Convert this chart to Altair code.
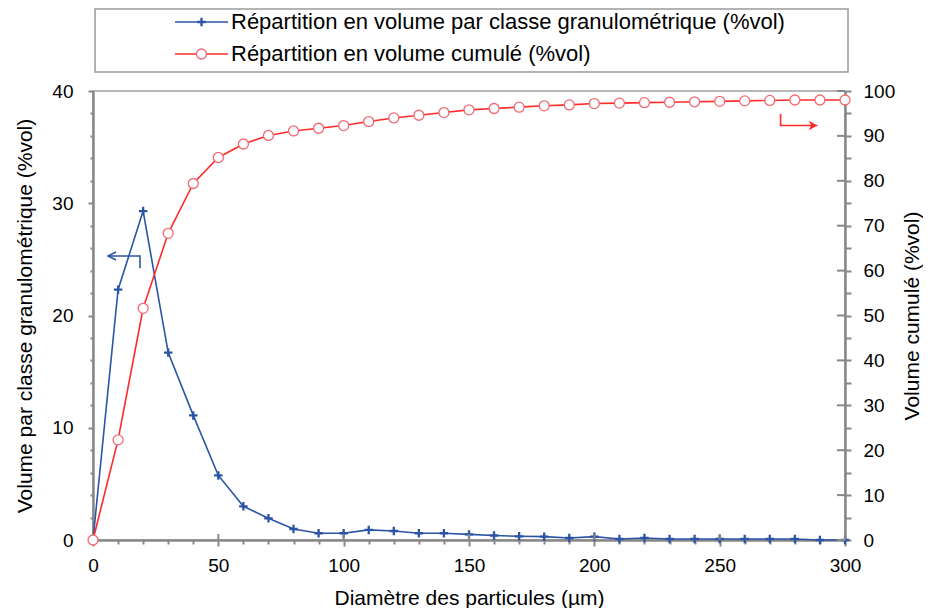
import altair as alt
import pandas as pd

# ---------------- data ----------------
diam = list(range(0, 301, 10))
vol_classe = [0.0, 22.3, 29.3, 16.7, 11.1, 5.75, 3.0, 1.93, 0.98, 0.6, 0.6, 0.9, 0.8,
              0.6, 0.6, 0.5, 0.4, 0.33, 0.3, 0.18, 0.3, 0.09, 0.18, 0.09, 0.09, 0.09,
              0.09, 0.09, 0.09, 0.0, 0.0]
vol_cumule = [0.0, 22.3, 51.6, 68.3, 79.4, 85.2, 88.2, 90.1, 91.1, 91.7, 92.3, 93.2, 94.0,
              94.6, 95.2, 95.8, 96.1, 96.4, 96.7, 96.9, 97.2, 97.3, 97.4, 97.5, 97.6, 97.7,
              97.8, 97.9, 98.0, 98.0, 98.0]

legend_labels = ["Répartition en volume par classe granulométrique (%vol)",
                 "Répartition en volume cumulé (%vol)"]
x_title = "Diamètre des particules (µm)"
y_left_title = "Volume par classe granulométrique (%vol)"
y_right_title = "Volume cumulé (%vol)"

# annotation arrows (data units)
blue_arrow_x = [6.0, 18.75, 18.75]
blue_arrow_y = [25.3, 25.3, 24.2]
red_arrow_x = [274.3, 274.3, 289.0]
red_arrow_y = [94.9, 92.3, 92.3]

x_major = list(range(0, 301, 50))
right_major = list(range(0, 101, 10))

# ---------------- styles ----------------
BLUE = "#2b54a6"
RED = "#ff2a2a"
RED_MK = "#f06a72"
GRAY = "#888888"
FONT = "Liberation Sans"
CROSS = "M-1,0L1,0M0,-1L0,1"
CHEV_L = "M1,-0.5L0,0L1,0.5"
ARROW_R = "M0,0L-1,-0.55L-0.72,0L-1,0.55Z"

df = pd.DataFrame({"diam": diam, "classe": vol_classe, "cumul": vol_cumule})
blue_arrow = pd.DataFrame({"ax": blue_arrow_x, "ay": blue_arrow_y, "i": [0, 1, 2]})
red_arrow = pd.DataFrame({"ax": red_arrow_x, "ay": red_arrow_y, "i": [0, 1, 2]})
xmaj_df = pd.DataFrame({"diam": x_major})
rmaj_df = pd.DataFrame({"cumul": right_major})
one = pd.DataFrame({"a": [0]})

x_axis = alt.Axis(
    values=list(range(0, 301, 10)),
    labelExpr="datum.value % 50 === 0 ? datum.label : ''",
    tickSize={"condition": {"test": "datum.value % 50 === 0", "value": 6}, "value": 4},
    labelPadding=10, titlePadding=12, grid=False,
)
x_scale = alt.Scale(domain=[0, 300], nice=False, zero=False)

left_axis = alt.Axis(
    values=list(range(0, 41, 2)),
    labelExpr="datum.value % 10 === 0 ? datum.label : ''",
    tickSize={"condition": {"test": "datum.value % 10 === 0", "value": 5}, "value": 3},
    labelPadding=15, titlePadding=16, grid=False, orient="left",
)
left_scale = alt.Scale(domain=[0, 40], nice=False)

right_axis = alt.Axis(
    values=list(range(0, 101, 5)),
    labelExpr="datum.value % 10 === 0 ? datum.label : ''",
    tickSize=6, labelPadding=12, titlePadding=28, grid=False, orient="right",
    titleAngle=270,
)
right_scale = alt.Scale(domain=[0, 100], nice=False)


def X(field):
    return alt.X(field, type="quantitative", scale=x_scale, axis=x_axis, title=x_title)


def YL(field):
    return alt.Y(field, type="quantitative", scale=left_scale, axis=left_axis, title=y_left_title)


def YR(field):
    return alt.Y(field, type="quantitative", scale=right_scale, axis=right_axis, title=y_right_title)


base = alt.Chart(df)

blue_line = base.mark_line(color=BLUE, strokeWidth=1.6).encode(x=X("diam"), y=YL("classe"))
blue_pts = base.mark_point(shape=CROSS, size=72, color=BLUE, strokeWidth=2.3, opacity=1).encode(
    x=X("diam"), y=YL("classe"))
blue_arr_line = alt.Chart(blue_arrow).mark_line(color=BLUE, strokeWidth=1.6).encode(
    x=X("ax"), y=YL("ay"), order="i:Q")
blue_arr_head = alt.Chart(blue_arrow.iloc[[0]]).mark_point(
    shape=CHEV_L, size=256, color=BLUE, strokeWidth=1.6, opacity=1).encode(x=X("ax"), y=YL("ay"))
x_inner = alt.Chart(xmaj_df).mark_rule(color=GRAY, strokeWidth=2).encode(
    x=X("diam"), y=alt.value(443), y2=alt.value(449))

# manual legend
leg_box = alt.Chart(one).mark_rect(fill="white", stroke="#9a9a9a", strokeWidth=1.5).encode(
    x=alt.value(2), x2=alt.value(755), y=alt.value(-82), y2=alt.value(-19))
leg_l1 = alt.Chart(one).mark_rule(color=BLUE, strokeWidth=1.6).encode(
    x=alt.value(82), x2=alt.value(135), y=alt.value(-69))
leg_p1 = alt.Chart(one).mark_point(shape=CROSS, size=72, color=BLUE, strokeWidth=2.3, opacity=1).encode(
    x=alt.value(108.5), y=alt.value(-69))
leg_t1 = alt.Chart(one).mark_text(align="left", baseline="middle", fontSize=22, font=FONT,
                                  color="black").encode(
    x=alt.value(138), y=alt.value(-69), text=alt.value(legend_labels[0]))
leg_l2 = alt.Chart(one).mark_rule(color=RED, strokeWidth=1.6).encode(
    x=alt.value(82), x2=alt.value(135), y=alt.value(-37))
leg_p2 = alt.Chart(one).mark_point(shape="circle", size=100, color=RED_MK, fill="white", filled=True,
                                   stroke=RED_MK, strokeWidth=1.3, opacity=1).encode(
    x=alt.value(108.5), y=alt.value(-37))
leg_t2 = alt.Chart(one).mark_text(align="left", baseline="middle", fontSize=22, font=FONT,
                                  color="black").encode(
    x=alt.value(138), y=alt.value(-37), text=alt.value(legend_labels[1]))

left = alt.layer(blue_line, blue_pts, blue_arr_line, blue_arr_head, x_inner,
                 leg_box, leg_l1, leg_p1, leg_t1, leg_l2, leg_p2, leg_t2)

red_line = base.mark_line(color=RED, strokeWidth=1.6).encode(x=X("diam"), y=YR("cumul"))
red_pts = base.mark_point(shape="circle", size=100, fill="white", filled=True, stroke=RED_MK,
                          strokeWidth=1.3, opacity=1).encode(x=X("diam"), y=YR("cumul"))
red_arr_line = alt.Chart(red_arrow).mark_line(color=RED, strokeWidth=1.6).encode(
    x=X("ax"), y=YR("ay"), order="i:Q")
red_arr_head = alt.Chart(red_arrow.iloc[[2]]).mark_point(
    shape=ARROW_R, size=300, fill=RED, filled=True, strokeWidth=0, opacity=1).encode(
    x=X("ax"), y=YR("ay"))
r_inner = alt.Chart(rmaj_df).mark_rule(color=GRAY, strokeWidth=2).encode(
    y=YR("cumul"), x=alt.value(744), x2=alt.value(752))

right = alt.layer(red_line, red_pts, red_arr_line, red_arr_head, r_inner)

chart = alt.layer(left, right).resolve_scale(y="independent").properties(
    width=752, height=449,
    autosize=alt.AutoSizeParams(type="none"),
    padding={"left": 85, "top": 83, "right": 78, "bottom": 68},
    background="white",
).configure_view(
    stroke="#a0a0a0", strokeWidth=1.5
).configure_axis(
    domainColor=GRAY, domainWidth=2.5, tickColor=GRAY, tickWidth=2,
    labelFont=FONT, labelFontSize=19, labelColor="black",
    titleFont=FONT, titleFontSize=21, titleColor="black", titleFontWeight="normal",
    labelFlush=False, labelOverlap=False,
).configure_text(font=FONT)

chart.save("out.html", embed_options={"renderer": "svg", "actions": False})
